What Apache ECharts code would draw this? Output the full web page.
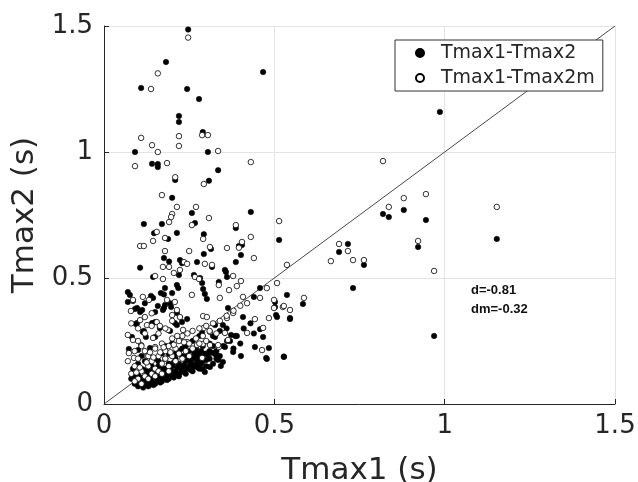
<!DOCTYPE html>
<html>
<head>
<meta charset="utf-8">
<script src="https://cdn.jsdelivr.net/npm/echarts@6/dist/echarts.min.js"></script>
<style>html,body{margin:0;padding:0;background:#fff;}#c{width:638px;height:482px;}</style>
</head>
<body>
<div id="c"></div>
<script>
// ---- data (x = Tmax1 in s, y = Tmax2 in s) ----
const seriesNames = ['Tmax1-Tmax2', 'Tmax1-Tmax2m'];
const xTicks = [0, 0.5, 1, 1.5];
const yTicks = [0, 0.5, 1, 1.5];
const refLine = [[0, 0], [1.5, 1.5]];
const annotations = ['d=-0.81', 'dm=-0.32'];

const filledPts = [
 [0.247,1.486],[0.182,1.357],[0.467,1.317],[0.109,1.254],[0.244,1.25],[0.279,1.21],[0.220,1.143],[0.220,1.119],
 [0.290,1.079],[0.091,1.0],[0.305,1.0],[0.141,0.953],[0.158,0.952],[0.158,0.94],[0.335,0.928],[0.209,0.889],
 [0.308,0.886],[0.200,0.818],[0.986,1.159],
 [0.258,0.758],[0.431,0.762],[0.117,0.714],[0.170,0.714],[0.267,0.718],[0.147,0.678],[0.214,0.679],[0.293,0.674],
 [0.387,0.698],[0.514,0.651],[0.188,0.655],[0.396,0.627],[0.405,0.631],[0.402,0.591],[0.314,0.615],[0.293,0.595],
 [0.176,0.579],[0.191,0.565],[0.106,0.541],[0.223,0.571],[0.229,0.559],[0.273,0.563],[0.317,0.544],[0.387,0.563],
 [0.355,0.532],[0.358,0.524],[0.264,0.512],[0.220,0.512],[0.144,0.504],[0.282,0.500],[0.337,0.484],[0.288,0.480],
 [0.070,0.444],[0.076,0.433],[0.138,0.429],[0.144,0.421],[0.179,0.460],[0.200,0.440],[0.296,0.437],[0.291,0.456],
 [0.302,0.417],[0.458,0.460],[0.440,0.425],[0.537,0.433],[0.091,0.377],[0.097,0.381],[0.112,0.373],[0.158,0.389],
 [0.176,0.381],[0.197,0.385],[0.244,0.337],[0.364,0.381],[0.505,0.353],[0.546,0.341],[0.408,0.345],[0.094,0.317],
 [0.117,0.290],[0.141,0.321],[0.164,0.302],[0.214,0.313],[0.326,0.313],[0.385,0.270],[0.123,0.266],[0.467,0.266],
 [0.443,0.226],[0.484,0.222],[0.476,0.183],[0.528,0.188],[0.402,0.190],[0.379,0.206],[0.329,0.194],[0.073,0.218],
 [0.100,0.214],[0.135,0.222],
 [0.070,0.405],[0.085,0.409],[0.120,0.400],[0.167,0.440],[0.176,0.435],[0.214,0.472],[0.218,0.460],[0.194,0.400],
 [0.179,0.393],[0.106,0.365],[0.150,0.365],[0.173,0.373],[0.214,0.361],[0.208,0.321],[0.229,0.325],[0.097,0.321],
 [0.150,0.325],[0.114,0.286],[0.194,0.290],[0.150,0.266],[0.082,0.266],
 [0.361,0.504],[0.502,0.405],[0.502,0.385],[0.508,0.345],[0.349,0.313],[0.458,0.297],[0.373,0.274],[0.288,0.282],
 [0.326,0.266],
 [0.819,0.754],[0.836,0.742],[0.880,0.770],[0.945,0.730],[1.153,0.655],[0.690,0.603],[0.716,0.635],[0.763,0.552],
 [0.922,0.623],[0.731,0.460],[0.584,0.397],[0.546,0.337],[0.969,0.270],[0.528,0.187],
 [0.273,0.202],[0.288,0.139],[0.296,0.127],[0.311,0.147],[0.305,0.194],[0.320,0.202],[0.335,0.175],[0.343,0.151],
 [0.349,0.167],[0.355,0.226],[0.478,0.179],[0.361,0.250],
 [0.09,0.08],[0.10,0.07],[0.11,0.09],[0.12,0.08],[0.12,0.10],[0.13,0.07],[0.14,0.09],[0.14,0.11],[0.15,0.08],
 [0.15,0.12],[0.16,0.10],[0.17,0.09],[0.17,0.13],[0.18,0.11],[0.18,0.14],[0.19,0.10],[0.19,0.16],[0.20,0.12],
 [0.20,0.15],[0.21,0.13],[0.21,0.18],[0.22,0.11],[0.22,0.16],[0.23,0.14],[0.23,0.19],[0.24,0.12],[0.24,0.17],
 [0.25,0.15],[0.25,0.21],[0.26,0.13],[0.26,0.18],[0.27,0.16],[0.27,0.22],[0.28,0.14],[0.28,0.19],[0.29,0.17],
 [0.29,0.23],[0.30,0.15],[0.30,0.20],[0.31,0.18],[0.31,0.24],[0.32,0.16],[0.33,0.21],[0.34,0.19],[0.35,0.23],
 [0.37,0.25],[0.38,0.22],[0.40,0.24],[0.08,0.10],[0.10,0.12],[0.11,0.14],[0.13,0.13],[0.16,0.15],[0.19,0.20],
 [0.12,0.17],[0.09,0.11],[0.105,0.085],[0.115,0.065],[0.125,0.09],[0.135,0.10],[0.145,0.075],[0.155,0.095],
 [0.165,0.115],[0.175,0.105],[0.185,0.125],[0.195,0.135],[0.205,0.105],[0.215,0.145],[0.225,0.125],[0.235,0.155],
 [0.245,0.14],[0.255,0.165],[0.265,0.15],[0.275,0.175],[0.285,0.16],[0.13,0.16],[0.15,0.18],[0.17,0.20],
 [0.22,0.21],[0.24,0.23],[0.26,0.25],[0.28,0.27],[0.32,0.27],[0.34,0.29],[0.36,0.30],[0.20,0.24],[0.18,0.23],
 [0.095,0.095],[0.105,0.105],[0.115,0.075],[0.125,0.115],[0.135,0.085],[0.145,0.13],[0.155,0.105],[0.165,0.085],
 [0.175,0.14],[0.185,0.095],[0.195,0.115],[0.205,0.165],[0.215,0.12],[0.225,0.145],[0.235,0.13],[0.245,0.19],
 [0.255,0.135],[0.265,0.20],[0.275,0.145],[0.285,0.21],[0.30,0.175],[0.31,0.21],[0.32,0.23],[0.33,0.18],
 [0.085,0.14],[0.10,0.16],[0.11,0.19],[0.12,0.135],[0.14,0.15],[0.16,0.17],[0.18,0.18],[0.21,0.20],
 [0.23,0.22],[0.25,0.18],[0.27,0.19],[0.29,0.20],[0.39,0.27],[0.41,0.30],[0.43,0.32],[0.44,0.28]
];

const openPts = [
 [0.247,1.454],[0.158,1.312],[0.138,1.25],[0.109,1.056],[0.220,1.063],[0.288,1.067],[0.305,1.067],[0.141,1.027],
 [0.220,1.024],[0.158,1.0],[0.335,1.004],[0.091,0.944],[0.185,0.956],[0.431,0.96],[0.209,0.9],[0.293,0.873],
 [0.170,0.829],
 [0.214,0.782],[0.270,0.782],[0.200,0.754],[0.197,0.742],[0.308,0.738],[0.514,0.726],[0.191,0.722],[0.258,0.710],
 [0.387,0.710],[0.155,0.683],[0.144,0.647],[0.179,0.659],[0.106,0.627],[0.117,0.627],[0.291,0.655],[0.431,0.663],
 [0.405,0.643],[0.311,0.623],[0.361,0.619],[0.396,0.620],[0.250,0.607],[0.179,0.607],[0.440,0.579],[0.235,0.563],
 [0.244,0.556],[0.296,0.556],[0.317,0.552],[0.173,0.544],[0.191,0.544],[0.205,0.520],[0.223,0.532],[0.150,0.508],
 [0.173,0.496],[0.267,0.504],[0.279,0.496],[0.379,0.508],[0.402,0.488],[0.508,0.480],[0.478,0.460],[0.337,0.472],
 [0.390,0.468],[0.367,0.452],[0.258,0.433],[0.340,0.421],[0.408,0.425],[0.458,0.421],[0.114,0.425],[0.085,0.413],
 [0.079,0.369],[0.132,0.413],[0.185,0.413],[0.208,0.405],[0.214,0.373],[0.200,0.353],[0.223,0.345],[0.499,0.413],
 [0.525,0.385],[0.546,0.373],[0.499,0.381],[0.484,0.341],[0.443,0.337],[0.291,0.349],[0.302,0.345],[0.361,0.341],
 [0.379,0.361],[0.106,0.333],[0.126,0.313],[0.155,0.325],[0.164,0.310],[0.188,0.294],[0.232,0.294],[0.293,0.302],
 [0.311,0.286],[0.355,0.282],[0.420,0.282],[0.467,0.302],[0.070,0.274],[0.085,0.254],[0.109,0.234],[0.144,0.262],
 [0.150,0.226],[0.223,0.262],[0.244,0.246],[0.273,0.234],[0.311,0.234],[0.337,0.226],[0.364,0.254],[0.464,0.214],
 [0.073,0.202],[0.088,0.183],[0.126,0.190],
 [0.819,0.964],[0.836,0.782],[0.880,0.817],[0.945,0.833],[1.153,0.782],[0.690,0.635],[0.716,0.607],[0.666,0.567],
 [0.731,0.571],[0.763,0.571],[0.922,0.647],[0.969,0.528],[0.537,0.552],[0.587,0.421],[0.528,0.389],
 [0.290,0.238],[0.335,0.234],[0.288,0.183],
 [0.08,0.12],[0.09,0.15],[0.10,0.10],[0.10,0.18],[0.11,0.13],[0.12,0.11],[0.12,0.21],[0.13,0.15],[0.13,0.19],
 [0.14,0.12],[0.14,0.17],[0.15,0.14],[0.15,0.22],[0.16,0.13],[0.16,0.19],[0.17,0.16],[0.17,0.24],[0.18,0.18],
 [0.18,0.21],[0.19,0.15],[0.19,0.23],[0.20,0.19],[0.20,0.26],[0.21,0.17],[0.21,0.22],[0.22,0.20],[0.22,0.25],
 [0.23,0.18],[0.23,0.27],[0.24,0.21],[0.25,0.19],[0.25,0.24],[0.26,0.22],[0.27,0.26],[0.28,0.24],[0.29,0.27],
 [0.30,0.25],[0.31,0.29],[0.33,0.28],[0.11,0.08],[0.09,0.09],[0.13,0.10],[0.15,0.11],[0.17,0.12],[0.19,0.13],
 [0.10,0.25],[0.12,0.28],[0.14,0.31],[0.09,0.21],[0.07,0.17],[0.16,0.28],[0.18,0.30],[0.20,0.33],[0.11,0.23],
 [0.095,0.125],[0.105,0.145],[0.125,0.165],[0.135,0.205],[0.145,0.185],[0.165,0.205],[0.175,0.225],[0.195,0.205],
 [0.205,0.235],[0.215,0.27],[0.235,0.245],[0.245,0.28],[0.26,0.29],[0.28,0.30],[0.30,0.31],[0.32,0.32],
 [0.34,0.33],[0.36,0.35],[0.38,0.37],[0.40,0.39],[0.42,0.40],[0.08,0.32],[0.10,0.30],[0.12,0.345],[0.14,0.36]
];

const FONT = 'DejaVu Sans';
const INK = '#262626';
const GRID = '#e3e3e3';

const chart = echarts.init(document.getElementById('c'), null, {renderer: 'canvas'});

function axisCommon(name, gap) {
  return {
    type: 'value', min: 0, max: 1.5, interval: 0.5,
    name: name, nameLocation: 'middle', nameGap: gap,
    nameTextStyle: {fontFamily: FONT, fontSize: 31, color: INK},
    axisLine: {show: true, lineStyle: {color: INK, width: 1}},
    axisTick: {show: true, inside: true, length: 5, lineStyle: {color: INK}},
    splitLine: {show: true, lineStyle: {color: GRID, width: 1}},
    axisLabel: {fontFamily: FONT, fontSize: 26, color: INK,
      formatter: v => String(v)}
  };
}

const xA = axisCommon('Tmax1 (s)', 51);
xA.axisLabel.margin = 9;
const yA = axisCommon('Tmax2 (s)', 49);
yA.axisLabel.margin = 11;

chart.setOption({
  backgroundColor: '#ffffff',
  animation: false,
  grid: {left: 104, top: 26, right: 23, bottom: 78, containLabel: false, outerBoundsMode: 'none'},
  xAxis: xA,
  yAxis: yA,
  legend: {
    data: seriesNames,
    orient: 'vertical',
    left: 395, top: 40,
    backgroundColor: '#ffffff',
    borderColor: '#333333', borderWidth: 1, borderRadius: 0,
    padding: [3, 8, 3, 20],
    itemGap: 5,
    itemWidth: 8, itemHeight: 8,
    icon: 'circle',
    textStyle: {fontFamily: FONT, fontSize: 19, color: INK, padding: [0, 0, 0, 12], lineHeight: 20}
  },
  graphic: [
    {type: 'text', left: 471, top: 284,
     style: {text: annotations[0], font: 'bold 13px "Liberation Sans"', fill: '#111'}},
    {type: 'text', left: 471, top: 303,
     style: {text: annotations[1], font: 'bold 13px "Liberation Sans"', fill: '#111'}}
  ],
  series: [
    {
      type: 'line', data: refLine, silent: true, symbol: 'none', showSymbol: false,
      lineStyle: {color: '#333', width: 0.9}, z: 1, legendHoverLink: false
    },
    {
      name: seriesNames[0], type: 'scatter', data: filledPts, symbol: 'circle', symbolSize: 5.5,
      itemStyle: {color: '#000000', borderColor: '#000000', borderWidth: 0.5, opacity: 1}, z: 3
    },
    {
      name: seriesNames[1], type: 'scatter', data: openPts, symbol: 'circle', symbolSize: 5.5,
      itemStyle: {color: '#ffffff', borderColor: '#000000', borderWidth: 0.8, opacity: 1}, z: 4
    }
  ]
});
</script>
</body>
</html>
